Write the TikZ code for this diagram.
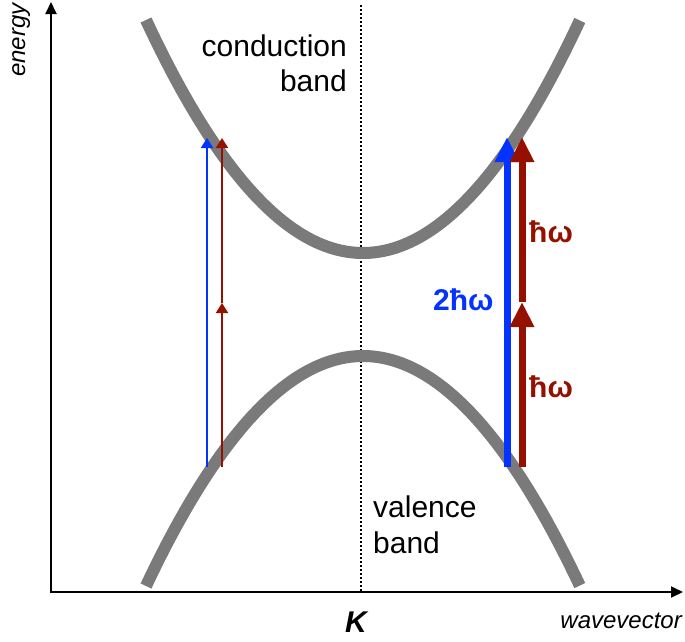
\documentclass[tikz,border=0pt]{standalone}
\usepackage{fontspec}
\setmainfont{Liberation Sans}
\usetikzlibrary{arrows.meta}
\definecolor{bandgray}{RGB}{122,122,122}
\definecolor{kblue}{RGB}{4,51,255}
\definecolor{kred}{RGB}{148,17,0}
\begin{document}
\begin{tikzpicture}[x=1pt,y=-1pt,
  axis/.style={line width=2pt,-{Triangle[length=12pt,width=11pt]}},
  dotline/.style={line width=2pt,dash pattern=on 2pt off 2pt},
  band/.style={line width=12pt,draw=bandgray,line cap=butt},
  thinarrow/.style={line width=2pt,-{Triangle[length=10pt,width=12pt]}},
  thickarrow/.style={line width=7pt,-{Triangle[length=25pt,width=23pt]}},
  lbl/.style={font=\fontsize{30}{35}\selectfont,inner sep=0pt},
  axlbl/.style={font=\fontsize{24}{28}\selectfont\itshape,inner sep=0pt},
  hwlbl/.style={font=\fontsize{30}{35}\selectfont\bfseries,inner sep=0pt}]
\useasboundingbox (0,0) rectangle (685,641);
% axes
\coordinate (O) at (51,593);
\coordinate (Ox) at (50,592);
\coordinate (ytip) at (51,2);
\coordinate (xtip) at (683,592);
\draw[axis] (O) -- (ytip);
\draw[axis] (Ox) -- (xtip);
% dotted K line
\coordinate (dtop) at (361,5);
\coordinate (dbot) at (361,591);
\draw[dotline] (dtop) -- (dbot);
% bands
\draw[band] plot[domain=-1:1,samples=90] ({363+217*\x},{253-233*\x*\x});
\draw[band] plot[domain=-1:1,samples=90] ({363+217*\x},{356+230*\x*\x});
% left transitions
\coordinate (lb0) at (207,467);
\coordinate (lb1) at (207,138);
\coordinate (lr0) at (222,467);
\coordinate (lrm) at (222,303);
\coordinate (lr1) at (222,138);
\draw[thinarrow,kblue] (lb0) -- (lb1);
\draw[thinarrow,kred] (lr0) -- (lrm);
\draw[thinarrow,kred] (lrm) -- (lr1);
% right transitions
\coordinate (rb0) at (507,467);
\coordinate (rb1) at (507,137);
\coordinate (rr0) at (522,467);
\coordinate (rrm) at (522,302);
\coordinate (rr1) at (522,137);
\draw[thickarrow,kblue] (rb0) -- (rb1);
\draw[thickarrow,kred] (rr0) -- (rrm);
\draw[thickarrow,kred] (rrm) -- (rr1);
% labels
\node[lbl,anchor=base east] (cb1) at (347,56) {conduction};
\node[lbl,anchor=base east] (cb2) at (347,91) {band};
\node[lbl,anchor=base west] (vb1) at (373,517) {valence};
\node[lbl,anchor=base west] (vb2) at (373,553) {band};
\node[hwlbl,text=kred,anchor=base west] (hw1) at (529,242) {ħω};
\node[hwlbl,text=kred,anchor=base west] (hw2) at (529,397) {ħω};
\node[hwlbl,text=kblue,anchor=base west] (hw3) at (433,310) {2ħω};
\node[axlbl,rotate=90,anchor=base west] (en) at (25,77) {energy};
\node[axlbl,anchor=base east] (wv) at (682,628) {wavevector};
\node[font=\fontsize{30}{35}\selectfont\bfseries\itshape,inner sep=0pt,anchor=base west] (K) at (345,632) {K};
\end{tikzpicture}
\end{document}
